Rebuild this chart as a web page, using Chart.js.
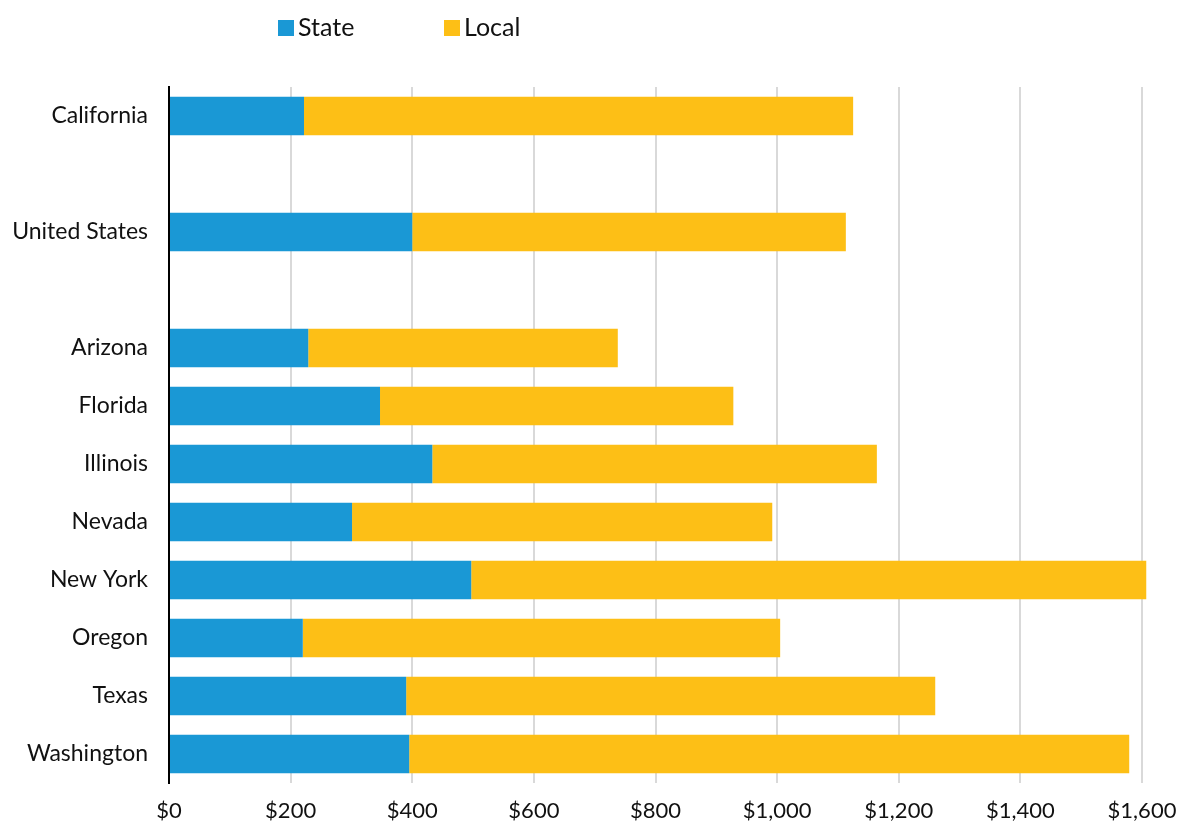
<!DOCTYPE html>
<html>
<head>
<meta charset="utf-8">
<script src="https://cdn.jsdelivr.net/npm/chart.js@4/dist/chart.umd.min.js"></script>
<style>
  html, body { margin: 0; padding: 0; background: #fff; }
  #wrap { width: 1184px; height: 825px; }
</style>
</head>
<body>
<div id="wrap"><canvas id="BarItem" width="1184" height="825"></canvas></div>
<script>
const places = ['California', '', 'United States', '', 'Arizona', 'Florida', 'Illinois', 'Nevada', 'New York', 'Oregon', 'Texas', 'Washington'];
const stateValues = [222, null, 400, null, 229, 347, 433, 301, 497, 220, 390, 395];
const localValues = [903, null, 713, null, 509, 581, 731, 691, 1110, 785, 870, 1184];
const xTicks = [0, 200, 400, 600, 800, 1000, 1200, 1400, 1600];

(function () {
    const font = 'Lato, "Open Sans", sans-serif';

    // legend drawn by hand so it sits where the reference puts it
    const topLegend = {
        id: 'topLegend',
        afterDraw(chart) {
            const ctx = chart.ctx;
            const spots = [278, 444];
            ctx.save();
            ctx.font = '25px ' + font;
            ctx.textBaseline = 'middle';
            chart.data.datasets.forEach((ds, i) => {
                ctx.fillStyle = ds.backgroundColor;
                ctx.fillRect(spots[i], 20, 16, 16);
                ctx.fillStyle = '#111';
                ctx.fillText(ds.label, spots[i] + 20, 28);
            });
            ctx.restore();
        }
    };

    const data = {
        labels: places,
        datasets: [{
            label: 'State',
            data: stateValues,
            backgroundColor: '#1a98d5',
            clip: false,
        }, {
            label: 'Local',
            data: localValues,
            backgroundColor: '#fdbf16',
            clip: false,
        }]
    };

    const config = {
        type: 'bar',
        data: data,
        options: {
            indexAxis: 'y',
            responsive: false,
            animation: false,
            barPercentage: 0.66,
            categoryPercentage: 1,
            layout: {
                padding: { top: 87, right: 42, bottom: 0, left: 0 }
            },
            plugins: {
                legend: { display: false },
                tooltip: { enabled: false },
            },
            scales: {
                x: {
                    stacked: true,
                    min: 0,
                    max: 1600,
                    afterBuildTicks(scale) {
                        scale.ticks = xTicks.map(v => ({ value: v }));
                    },
                    afterFit(scale) {
                        scale.height = 42;
                        scale.paddingLeft = 0;
                        scale.paddingRight = 0;
                    },
                    grid: {
                        color: '#d9d9d9',
                        lineWidth: 2,
                        drawTicks: false,
                    },
                    border: { display: false },
                    ticks: {
                        padding: 15,
                        color: '#111',
                        font: { family: font, size: 22 },
                        maxRotation: 0,
                        callback: v => '$' + v.toLocaleString('en-US'),
                    },
                },
                y: {
                    stacked: true,
                    afterFit(scale) {
                        scale.width = 169;
                    },
                    grid: { display: false, drawTicks: false },
                    border: { display: true, color: '#000', width: 2 },
                    ticks: {
                        padding: 21,
                        color: '#111',
                        font: { family: font, size: 23 },
                        autoSkip: false,
                    },
                },
            },
        },
        plugins: [topLegend],
    };

    new Chart(document.getElementById('BarItem'), config);
})();
</script>
</body>
</html>
